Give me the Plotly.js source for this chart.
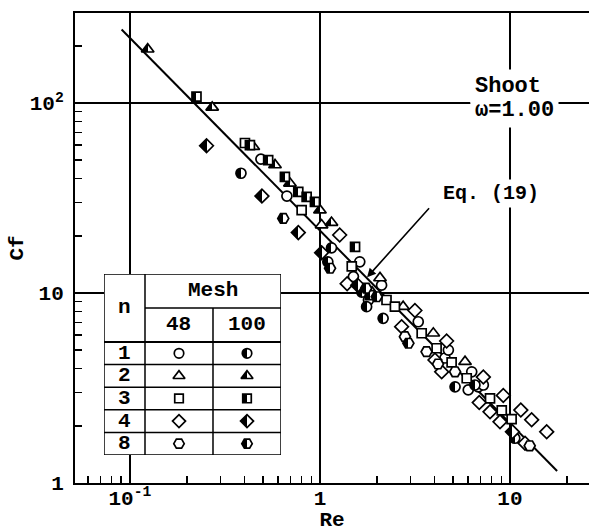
<!DOCTYPE html>
<html><head><meta charset="utf-8">
<script src="https://cdn.plot.ly/plotly-3.0.1.min.js"></script>
<style>html,body{margin:0;padding:0;background:#fff}</style>
</head><body>
<div id="chart" style="width:589px;height:532px"></div>
<script>
// ---------------- data ----------------
const n1_48_Re  = [0.489, 0.670, 1.50, 1.62, 1.80, 2.11, 3.29, 4.55, 4.74, 6.03, 6.29, 6.81, 7.24];
const n1_48_Cf  = [50.7, 32.4, 12.2, 14.6, 9.19, 11.0, 7.06, 4.55, 5.01, 3.09, 3.85, 3.21, 3.28];
const n1_100_Re = [0.384, 1.10, 1.15, 1.66, 1.76, 2.15, 5.14, 6.54, 10.6];
const n1_100_Cf = [42.7, 14.6, 17.3, 10.1, 8.47, 7.36, 3.21, 3.28, 1.72];
const n2_48_Re  = [1.02, 2.07, 2.74, 3.95, 5.80];
const n2_48_Cf  = [22.8, 12.0, 8.47, 6.14, 4.35];
const n2_100_Re = [0.124, 0.271, 0.446, 0.580, 0.695, 1.00, 1.15, 1.88];
const n2_100_Cf = [192, 94.9, 58.9, 47.2, 37.8, 27.3, 23.5, 10.1];
const n3_48_Re  = [0.403, 0.801, 1.47, 2.24, 2.48, 3.43, 4.11, 4.93, 5.92, 7.85, 9.05, 10.2];
const n3_48_Cf  = [61.6, 27.3, 13.8, 9.19, 8.47, 6.14, 5.12, 4.31, 3.56, 2.79, 2.41, 2.17];
const n3_100_Re = [0.224, 0.428, 0.534, 0.654, 0.769, 0.851, 0.941, 1.53, 1.83];
const n3_100_Cf = [108, 60.1, 50.1, 40.9, 34.1, 32.1, 30.2, 17.5, 9.76];
const n4_48_Re  = [1.27, 1.39, 2.69, 3.16, 4.03, 4.37, 4.64, 6.89, 7.24, 7.85, 8.86, 9.22, 11.4, 12.0, 13.0, 15.6];
const n4_48_Cf  = [20.2, 11.2, 6.65, 8.09, 4.44, 3.85, 5.59, 2.65, 3.61, 2.37, 2.10, 2.89, 2.42, 1.62, 2.15, 1.86];
const n4_100_Re = [0.253, 0.495, 0.769, 1.02, 1.58, 10.3];
const n4_100_Cf = [59.6, 32.4, 20.8, 16.3, 11.0, 1.86];
const n8_48_Re  = [2.80, 3.64, 4.18, 5.14, 12.7];
const n8_48_Cf  = [5.89, 4.91, 4.23, 3.85, 1.57];
const n8_100_Re = [0.641, 1.13, 1.75, 1.99, 2.92];
const n8_100_Cf = [24.7, 13.5, 10.6, 9.56, 5.44];

// Eq. (19) line end points
const eqRe = [0.0904, 17.7];
const eqCf = [244, 1.157];
const eqArrowRe = 1.77, eqArrowCf = 12.1;

// tick labels
const xTickVals = [0.1, 1, 10];
const xTickText = ['10<sup>-1</sup>', '1', '10'];
const yTickVals = [1, 10, 100];
const yTickText = ['1', '10', '10<sup>2</sup>'];

// legend table content
const nLabels = ['1', '2', '3', '4', '8'];
const meshLabels = ['48', '100'];
const symbols = ['circle', 'triangle-up', 'square', 'diamond', 'hexagon2'];
const symSizes = [10, 11, 9, 10.5, 11];

// ---------------- construction ----------------
const FONT = 'Liberation Mono, Courier New, monospace';
const xMinor = [], yMinor = [];
for (const d of [0.01, 0.1, 1, 10]) for (let k = 2; k <= 9; k++) xMinor.push(+(k * d).toPrecision(3));
for (const d of [1, 10, 100]) for (let k = 2; k <= 9; k++) yMinor.push(+(k * d).toPrecision(3));

const series = [
  [n1_48_Re, n1_48_Cf, 0, false], [n1_100_Re, n1_100_Cf, 0, true],
  [n2_48_Re, n2_48_Cf, 1, false], [n2_100_Re, n2_100_Cf, 1, true],
  [n3_48_Re, n3_48_Cf, 2, false], [n3_100_Re, n3_100_Cf, 2, true],
  [n4_48_Re, n4_48_Cf, 3, false], [n4_100_Re, n4_100_Cf, 3, true],
  [n8_48_Re, n8_48_Cf, 4, false], [n8_100_Re, n8_100_Cf, 4, true]
];

function markerStyle(i, half, scale) {
  const m = {symbol: symbols[i], size: symSizes[i] * (scale || 1), line: {color: 'black', width: 1.7}};
  if (half) { m.color = 'black'; m.gradient = {type: 'horizontal', color: 'white'}; }
  else { m.color = 'white'; }
  return m;
}

const traces = [{
  x: eqRe, y: eqCf, mode: 'lines', line: {color: 'black', width: 2}, hoverinfo: 'skip'
}];
series.forEach(([re, cf, i, half]) => {
  traces.push({x: re, y: cf, mode: 'markers', marker: markerStyle(i, half), cliponaxis: false});
});

// legend table geometry (inset axes units, px-like)
const colX = [0, 41, 109, 177];
const rowY = [0, 34, 68, 90.6, 113.2, 135.8, 158.4, 181];
const colCenter = [(colX[0] + colX[1]) / 2, (colX[1] + colX[2]) / 2, (colX[2] + colX[3]) / 2];
const dataRowCenters = [];
for (let r = 0; r < 5; r++) dataRowCenters.push((rowY[2 + r] + rowY[3 + r]) / 2);

series.forEach(([re, cf, i, half]) => {
  traces.push({x: [half ? colCenter[2] : colCenter[1]], y: [dataRowCenters[i]], xaxis: 'x2', yaxis: 'y2',
    mode: 'markers', marker: markerStyle(i, half, 0.95)});
});

const shapes = [];
const L = (x0, y0, x1, y1, w) => shapes.push({type: 'line', xref: 'x2', yref: 'y2', layer: 'below', x0, y0, x1, y1, line: {color: 'black', width: w || 1.5}});
shapes.push({type: 'rect', xref: 'x2', yref: 'y2', layer: 'below', x0: colX[0], x1: colX[3], y0: rowY[0], y1: rowY[7], fillcolor: 'white', line: {color: 'black', width: 1.5}});
L(colX[1], rowY[0], colX[1], rowY[7]);
L(colX[1], rowY[1], colX[3], rowY[1]);
L(colX[2], rowY[1], colX[2], rowY[7]);
L(colX[0], rowY[2], colX[3], rowY[2], 2);
for (let r = 3; r <= 6; r++) L(colX[0], rowY[r], colX[3], rowY[r]);

const tf = {family: FONT, size: 21, color: 'black', weight: 'bold'};
const annotations = [
  {xref: 'x2', yref: 'y2', x: colCenter[0], y: (rowY[0] + rowY[2]) / 2, text: 'n', showarrow: false, font: tf},
  {xref: 'x2', yref: 'y2', x: (colX[1] + colX[3]) / 2, y: (rowY[0] + rowY[1]) / 2, text: 'Mesh', showarrow: false, font: tf},
  {xref: 'x2', yref: 'y2', x: colCenter[1], y: (rowY[1] + rowY[2]) / 2, text: meshLabels[0], showarrow: false, font: tf},
  {xref: 'x2', yref: 'y2', x: colCenter[2], y: (rowY[1] + rowY[2]) / 2, text: meshLabels[1], showarrow: false, font: tf}
];
nLabels.forEach((t, r) => annotations.push({xref: 'x2', yref: 'y2', x: colCenter[0], y: dataRowCenters[r], text: t, showarrow: false, font: tf}));

const af = {family: FONT, size: 22, color: 'black', weight: 'bold'};
annotations.push(
  {xref: 'paper', yref: 'paper', x: 0.769, y: 0.8435, xanchor: 'left', yanchor: 'middle', text: 'Shoot', showarrow: false, font: af, bgcolor: 'white', borderpad: 4},
  {xref: 'paper', yref: 'paper', x: 0.769, y: 0.7915, xanchor: 'left', yanchor: 'middle', text: 'ω=1.00', showarrow: false, font: af, bgcolor: 'white', borderpad: 4},
  {xref: 'paper', yref: 'paper', x: 0.81, y: 0.616, xanchor: 'center', yanchor: 'middle', text: 'Eq. (19)', showarrow: false, font: {family: FONT, size: 20, color: 'black', weight: 'bold'}, bgcolor: 'white', borderpad: 2},
  {xref: 'x', yref: 'y', x: Math.log10(eqArrowRe), y: Math.log10(eqArrowCf), text: ' ', showarrow: true, ax: 70, ay: -78, arrowhead: 2, arrowsize: 1.1, arrowwidth: 1.6, arrowcolor: 'black', standoff: 0}
);

const axCommon = {
  type: 'log', ticks: 'inside', ticklen: 8, tickwidth: 1.5, tickcolor: 'black',
  showgrid: true, gridcolor: 'black', gridwidth: 1.5, showline: true, linecolor: 'black', linewidth: 2,
  zeroline: false, automargin: false, tickfont: tf
};
const layout = {
  width: 589, height: 532,
  margin: {l: 75, r: 0, t: 13, b: 49},
  paper_bgcolor: 'white', plot_bgcolor: 'white',
  showlegend: false,
  font: tf,
  xaxis: Object.assign({}, axCommon, {
    range: [Math.log10(0.0514), Math.log10(26.05)], tickmode: 'array', tickvals: xTickVals, ticktext: xTickText, mirror: true,
    ticklabelstandoff: -5,
    minor: {tickmode: 'array', tickvals: xMinor, ticks: 'inside', ticklen: 7, tickwidth: 1.5, tickcolor: 'black', showgrid: false},
    title: {text: 'Re', standoff: 6, font: tf}
  }),
  yaxis: Object.assign({}, axCommon, {
    range: [0, 2.474], tickmode: 'array', tickvals: yTickVals, ticktext: yTickText, ticklabelstandoff: 5,
    minor: {tickmode: 'array', tickvals: yMinor, ticks: 'inside', ticklen: 7, tickwidth: 1.5, tickcolor: 'black', showgrid: false},
    title: {text: 'Cf', standoff: 0, font: tf}
  }),
  xaxis2: {domain: [0.0564, 0.4008], range: [colX[0], colX[3]], anchor: 'y2', visible: false, fixedrange: true},
  yaxis2: {domain: [0.0596, 0.4447], range: [rowY[7], rowY[0]], anchor: 'x2', visible: false, fixedrange: true},
  shapes, annotations
};

const gd = document.getElementById('chart');
Plotly.newPlot(gd, traces, layout, {staticPlot: true, displayModeBar: false}).then(() => {
  // make the horizontal marker gradient a sharp half fill
  gd.querySelectorAll('linearGradient').forEach(g => {
    const stops = Array.from(g.querySelectorAll('stop'));
    if (stops.length !== 2) return;
    const a = stops[0].cloneNode(true), b = stops[1].cloneNode(true);
    a.setAttribute('offset', '50%'); b.setAttribute('offset', '50%');
    g.insertBefore(a, stops[1]); g.insertBefore(b, stops[1]);
  });
});
</script>
</body></html>
